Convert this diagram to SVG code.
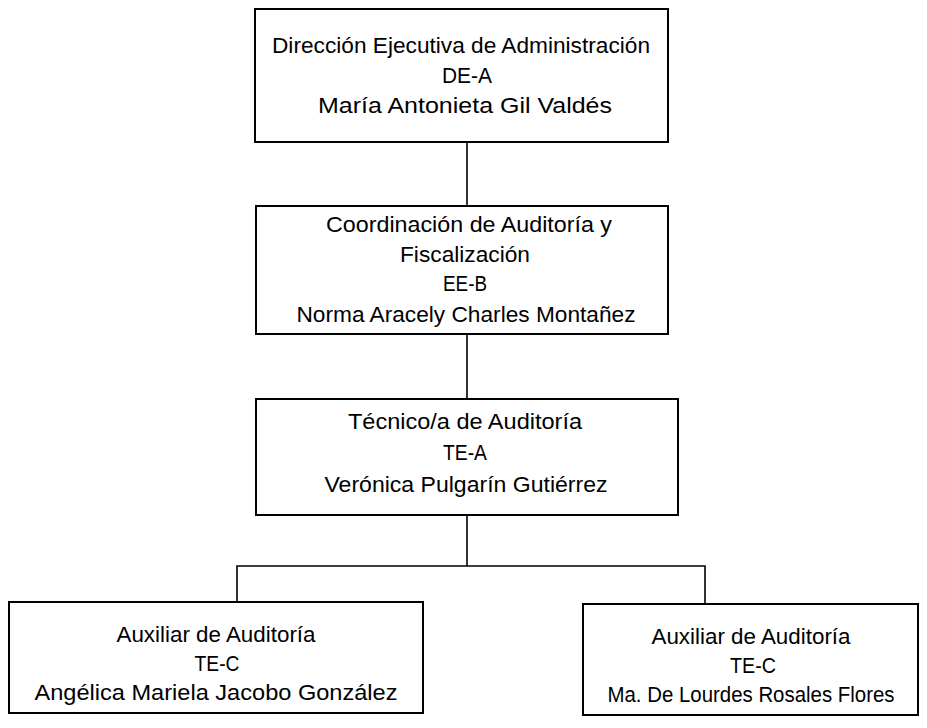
<svg xmlns="http://www.w3.org/2000/svg" width="927" height="728" viewBox="0 0 927 728">
<style>
.box{fill:#fff;stroke:#000;stroke-width:2}
.conn{fill:none;stroke:#000;stroke-width:1.6}
text{font-family:"Liberation Sans",Arial,sans-serif;font-size:22px;fill:#000;text-anchor:middle}
</style>
<rect width="927" height="728" fill="#fff"/>
<g id="connectors">
<line class="conn" x1="467" y1="142" x2="467" y2="206"/>
<line class="conn" x1="467" y1="334" x2="467" y2="399"/>
<polyline class="conn" points="467,515 467,566"/>
<polyline class="conn" points="237,602 237,566 705,566 705,604"/>
</g>
<g id="n1">
<rect class="box" x="255" y="9" width="413" height="133"/>
<text x="461" y="53" textLength="378" lengthAdjust="spacingAndGlyphs">Dirección Ejecutiva de Administración</text>
<text x="467" y="83" textLength="50" lengthAdjust="spacingAndGlyphs">DE-A</text>
<text x="465" y="113" textLength="294" lengthAdjust="spacingAndGlyphs">María Antonieta Gil Valdés</text>
</g>
<g id="n2">
<rect class="box" x="256" y="206" width="412" height="128"/>
<text x="469" y="232" textLength="286" lengthAdjust="spacingAndGlyphs">Coordinación de Auditoría y</text>
<text x="465" y="262" textLength="130" lengthAdjust="spacingAndGlyphs">Fiscalización</text>
<text x="465" y="291" textLength="44" lengthAdjust="spacingAndGlyphs">EE-B</text>
<text x="466" y="322" textLength="339" lengthAdjust="spacingAndGlyphs">Norma Aracely Charles Montañez</text>
</g>
<g id="n3">
<rect class="box" x="256" y="399" width="422" height="116"/>
<text x="465" y="429" textLength="234" lengthAdjust="spacingAndGlyphs">Técnico/a de Auditoría</text>
<text x="465" y="460" textLength="44" lengthAdjust="spacingAndGlyphs">TE-A</text>
<text x="466" y="492" textLength="283" lengthAdjust="spacingAndGlyphs">Verónica Pulgarín Gutiérrez</text>
</g>
<g id="n4">
<rect class="box" x="9" y="602" width="414" height="111"/>
<text x="216" y="642" textLength="199" lengthAdjust="spacingAndGlyphs">Auxiliar de Auditoría</text>
<text x="217" y="671" textLength="45" lengthAdjust="spacingAndGlyphs">TE-C</text>
<text x="216" y="700" textLength="363" lengthAdjust="spacingAndGlyphs">Angélica Mariela Jacobo González</text>
</g>
<g id="n5">
<rect class="box" x="583" y="604" width="335" height="111"/>
<text x="751" y="644" textLength="199" lengthAdjust="spacingAndGlyphs">Auxiliar de Auditoría</text>
<text x="753" y="673" textLength="46" lengthAdjust="spacingAndGlyphs">TE-C</text>
<text x="751" y="702" textLength="287" lengthAdjust="spacingAndGlyphs">Ma. De Lourdes Rosales Flores</text>
</g>
</svg>
